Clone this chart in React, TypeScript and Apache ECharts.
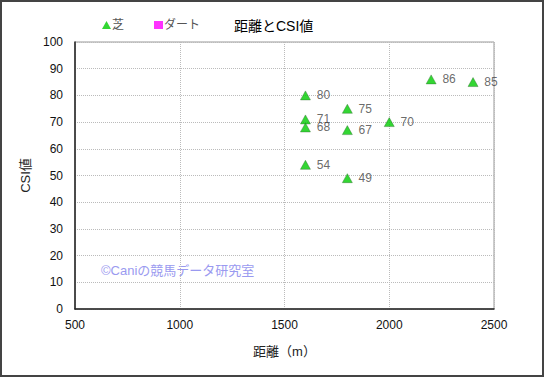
import React, { useEffect, useRef } from "react";
import * as echarts from "echarts";

const distances = [1600, 1600, 1600, 1600, 1800, 1800, 1800, 2000, 2200, 2400];
const csiValues = [80, 71, 68, 54, 75, 67, 49, 70, 86, 85];
const xTicks = { min: 500, max: 2500, interval: 500 };
const yTicks = { min: 0, max: 100, interval: 10 };
const seriesNames = ["芝", "ダート"];

const FONT = "'Liberation Sans', 'Noto Sans CJK JP', sans-serif";

export default function App() {
  const ref = useRef<HTMLDivElement>(null);
  useEffect(() => {
    if (!ref.current) return;
    const chart = echarts.init(ref.current, undefined, { renderer: "svg" });
    const turf = distances.map((d, i) => [d, csiValues[i]]);
    chart.setOption({
      animation: false,
      textStyle: { fontFamily: FONT },
      title: {
        text: "距離とCSI値",
        left: 229,
        top: 14,
        textStyle: { fontSize: 14, fontWeight: "normal", color: "#000", fontFamily: FONT },
      },
      legend: {
        left: 97,
        top: 14,
        itemWidth: 9,
        itemHeight: 8,
        itemGap: 30,
        textStyle: { fontSize: 12, color: "#555", fontFamily: FONT, padding: [0, 0, 0, -4] },
        data: [
          { name: seriesNames[0], icon: "triangle", itemStyle: { color: "#00cc00", borderWidth: 0 } },
          { name: seriesNames[1], icon: "rect" },
        ],
      },
      grid: {
        left: 75,
        right: 51,
        top: 42,
        bottom: 68,
        show: true,
        borderColor: "#999",
        borderWidth: 1,
      },
      xAxis: {
        type: "value",
        min: xTicks.min,
        max: xTicks.max,
        interval: xTicks.interval,
        name: "距離（m）",
        nameLocation: "middle",
        nameGap: 36,
        nameTextStyle: { fontSize: 13, color: "#222", fontFamily: FONT },
        axisLine: { show: true, lineStyle: { color: "#222", width: 1.5 } },
        axisTick: { show: false },
        axisLabel: {
          fontSize: 12,
          color: "#111",
          margin: 10,
          fontFamily: FONT,
          formatter: (v: number) => String(v),
        },
        splitLine: { show: true, lineStyle: { color: "#bbb", type: [1, 1], width: 1 } },
      },
      yAxis: {
        type: "value",
        min: yTicks.min,
        max: yTicks.max,
        interval: yTicks.interval,
        name: "CSI値",
        nameLocation: "middle",
        nameGap: 41,
        nameTextStyle: { fontSize: 13, color: "#222", fontFamily: FONT },
        axisLine: { show: true, lineStyle: { color: "#222", width: 1.5 } },
        axisTick: { show: false },
        axisLabel: { fontSize: 12, color: "#111", margin: 12, fontFamily: FONT },
        splitLine: { show: true, lineStyle: { color: "#bbb", type: [1, 1], width: 1 } },
      },
      graphic: [
        {
          type: "text",
          left: 101,
          top: 264,
          style: {
            text: "©Caniの競馬データ研究室",
            fill: "#9a9af0",
            font: `13px ${FONT}`,
          },
        },
      ],
      series: [
        {
          name: seriesNames[0],
          type: "scatter",
          symbol: "triangle",
          symbolSize: [10, 9],
          itemStyle: { color: "#00cc00", borderColor: "#2d6b2d", borderWidth: 0.5 },
          label: {
            show: true,
            position: "right",
            distance: 6,
            formatter: (p: any) => String(p.value[1]),
            fontSize: 12,
            color: "#444",
            fontFamily: FONT,
          },
          data: turf,
        },
        {
          name: seriesNames[1],
          type: "scatter",
          symbol: "rect",
          symbolSize: 9,
          itemStyle: { color: "#ff00ff" },
          data: [],
        },
      ],
    });
    return () => chart.dispose();
  }, []);
  return (
    <div style={{ position: "absolute", left: 0, top: 0, width: 545, height: 377, background: "#fff" }}>
      <div ref={ref} style={{ position: "absolute", left: 0, top: 0, width: 545, height: 377 }} />
      <div
        style={{
          position: "absolute",
          left: 0,
          top: 0,
          width: 544,
          height: 377,
          boxSizing: "border-box",
          border: "2px solid #444",
          pointerEvents: "none",
        }}
      />
    </div>
  );
}
